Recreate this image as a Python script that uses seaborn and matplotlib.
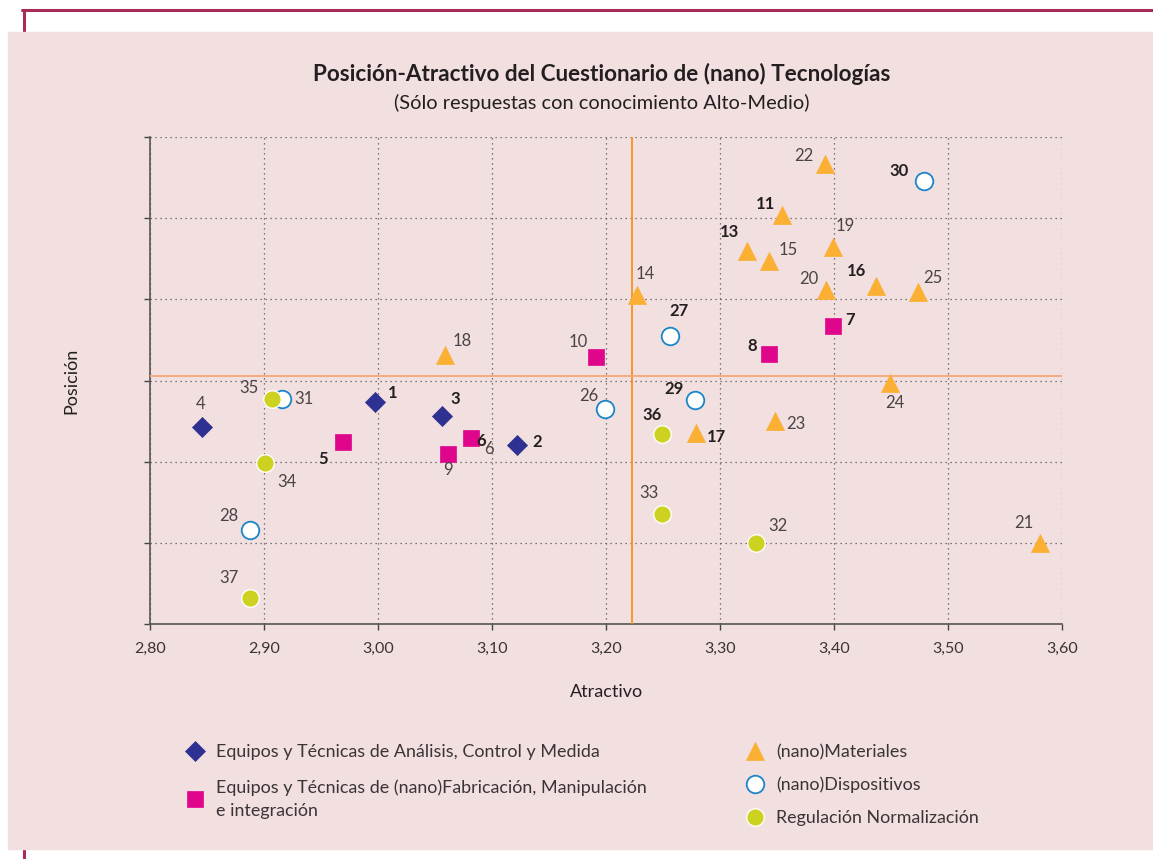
import matplotlib
matplotlib.use("Agg")
import matplotlib.pyplot as plt
from matplotlib.lines import Line2D
from matplotlib.patches import Rectangle
import pandas as pd
import seaborn as sns

# values (Atractivo = x, Posición = y)
analisis_ids = [1, 2, 3, 4]
analisis_x = [2.997, 3.122, 3.056, 2.846]
analisis_y = [2.946, 2.840, 2.913, 2.885]

fabricacion_ids = [5, 6, 7, 8, 9, 10]
fabricacion_x = [2.969, 3.082, 3.399, 3.343, 3.061, 3.191]
fabricacion_y = [2.849, 2.859, 3.135, 3.066, 2.820, 3.059]

materiales_ids = [11, 13, 14, 15, 16, 17, 18, 19, 20, 21, 22, 23, 24, 25]
materiales_x = [3.354, 3.324, 3.227, 3.343, 3.437, 3.279, 3.059, 3.399, 3.393, 3.581, 3.392, 3.348, 3.449, 3.474]
materiales_y = [3.407, 3.320, 3.211, 3.295, 3.233, 2.871, 3.062, 3.328, 3.223, 2.600, 3.533, 2.901, 2.995, 3.218]

dispositivos_ids = [26, 27, 28, 29, 30, 31]
dispositivos_x = [3.199, 3.256, 2.888, 3.278, 3.479, 2.916]
dispositivos_y = [2.930, 3.109, 2.632, 2.951, 3.492, 2.954]

regulacion_ids = [32, 33, 34, 35, 36, 37]
regulacion_x = [3.332, 3.249, 2.901, 2.907, 3.249, 2.888]
regulacion_y = [2.600, 2.671, 2.797, 2.954, 2.867, 2.465]

media_x = 3.223
media_y = 3.011

bold_ids = [1, 2, 3, 5, 6, 7, 8, 11, 13, 16, 17, 27, 29, 30, 36]

x_ticks = [2.8, 2.9, 3.0, 3.1, 3.2, 3.3, 3.4, 3.5, 3.6]
x_ticklabels = ["2,80", "2,90", "3,00", "3,10", "3,20", "3,30", "3,40", "3,50", "3,60"]

grupos = [
    ("Equipos y Técnicas de Análisis, Control y Medida", analisis_ids, analisis_x, analisis_y),
    ("Equipos y Técnicas de (nano)Fabricación, Manipulación\ne integración", fabricacion_ids, fabricacion_x, fabricacion_y),
    ("(nano)Materiales", materiales_ids, materiales_x, materiales_y),
    ("(nano)Dispositivos", dispositivos_ids, dispositivos_x, dispositivos_y),
    ("Regulación Normalización", regulacion_ids, regulacion_x, regulacion_y),
]

# marker styles per group: marker, size, face, edge, edge width
estilos = [
    ("D", 105, "#2e3192", "#2e3192", 0.5),
    ("s", 140, "#e0068c", "#e0068c", 0.5),
    ("^", 170, "#fbb034", "#fbb034", 0.5),
    ("o", 160, "white", "#1a85c8", 1.3),
    ("o", 160, "#cdd11f", "white", 1.0),
]

# label offsets in pixels (dx right, dy down)
offsets = {
    1: (18, -9), 2: (20, -3), 3: (13, -17), 4: (-2, -23), 5: (-20, 17), 6: (10, 3),
    7: (17, -6), 8: (-17, -8), 9: (0, 16), 10: (-18, -15), 11: (-16, -11), 13: (-18, -19),
    14: (8, -21), 15: (19, -11), 16: (-20, -15), 17: (20, 4), 18: (17, -14), 19: (12, -21),
    20: (-17, -11), 21: (-17, -20), 22: (-21, -8), 23: (21, 3), 24: (5, 20), 25: (14, -14),
    26: (-16, -13), 27: (9, -25), 28: (-22, -14), 29: (-21, -11), 30: (-25, -10), 31: (22, 0),
    32: (21, -17), 33: (-13, -21), 34: (22, 19), 35: (-23, -11), 36: (-10, -19), 37: (-21, -20),
}

sns.set_style("white")
plt.rcParams['font.family'] = ['Lato', 'DejaVu Sans']

bg = "#f2dfe0"
fig = plt.figure(figsize=(11.53, 8.59), dpi=100)
fig.patch.set_facecolor("white")

# crimson frame lines behind the pink panel
fig.add_artist(Line2D([22 / 1153, 1], [1 - 10 / 859, 1 - 10 / 859], color="#a92b5a", lw=2.2, zorder=0))
fig.add_artist(Line2D([24 / 1153, 24 / 1153], [0, 1 - 10 / 859], color="#a92b5a", lw=2.2, zorder=0))
fig.add_artist(Rectangle((8 / 1153, 10 / 859), 1, (849 - 32) / 859, color=bg, zorder=1))

ax = fig.add_axes([150 / 1153, 1 - 624 / 859, 912 / 1153, 487 / 859])
ax.set_facecolor(bg)
ax.set_zorder(2)

for (nombre, ids, xs, ys), (mk, s, fc, ec, lw) in zip(grupos, estilos):
    df = pd.DataFrame({"id": ids, "x": xs, "y": ys})
    sns.scatterplot(data=df, x="x", y="y", marker=mk, s=s, color=fc, edgecolor=ec,
                    linewidth=lw, ax=ax, zorder=4, legend=False)
    for i, x, y in zip(ids, xs, ys):
        dx, dy = offsets[i]
        bold = i in bold_ids
        ax.annotate(str(i), (x, y), xytext=(dx, -dy), textcoords="offset pixels",
                    ha="center", va="center", fontsize=12,
                    fontweight="bold" if bold else "normal",
                    color="#231f20" if bold else "#4a4446", zorder=5)

# second "6" label that overlaps the bold one (as in the original)
ax.annotate("6", (fabricacion_x[1], fabricacion_y[1]), xytext=(17, -11), textcoords="offset pixels",
            ha="center", va="center", fontsize=12, color="#4a4446", zorder=5)

ax.axvline(media_x, color="#f7901e", lw=1.3, zorder=3)
ax.axhline(media_y, color="#f5a77a", lw=1.3, zorder=3)

ax.set_xlim(2.8, 3.6)
ax.set_ylim(2.4, 3.6)
ax.set_xticks(x_ticks)
ax.set_xticklabels(x_ticklabels, fontsize=11.5, color="#3a3436")
ax.set_yticks([2.4, 2.6, 2.8, 3.0, 3.2, 3.4, 3.6])
ax.set_yticklabels([])
ax.grid(True, linestyle=(0, (1, 3)), color="#555555", lw=0.9)
ax.tick_params(axis="both", direction="out", length=4, width=1, color="#444444", left=True, bottom=True)
ax.tick_params(axis="x", pad=9)
for side in ["top", "right"]:
    ax.spines[side].set_visible(False)
for side in ["left", "bottom"]:
    ax.spines[side].set_color("#555555")
    ax.spines[side].set_linewidth(1.2)

ax.set_xlabel("Atractivo", fontsize=13, color="#231f20", labelpad=20)
ax.set_ylabel("Posición", fontsize=13, color="#231f20", labelpad=43)

fig.text(602 / 1153, 1 - 74 / 859, "Posición-Atractivo del Cuestionario de (nano) Tecnologías",
         ha="center", va="center", fontsize=16.2, fontweight="bold", color="#231f20")
fig.text(602 / 1153, 1 - 103 / 859, "(Sólo respuestas con conocimiento Alto-Medio)",
         ha="center", va="center", fontsize=14.4, color="#231f20")

# legends
handles = []
for (nombre, ids, xs, ys), (mk, s, fc, ec, lw) in zip(grupos, estilos):
    handles.append(Line2D([], [], linestyle="none", marker=mk, markersize=s ** 0.5,
                          markerfacecolor=fc, markeredgecolor=ec, markeredgewidth=lw, label=nombre))

leg1 = fig.legend(handles=handles[:2], loc="upper left", bbox_to_anchor=(168 / 1153, 1 - 728 / 859),
                  frameon=False, fontsize=12.9, labelspacing=1.05, handletextpad=0.6,
                  handlelength=1.2, labelcolor="#3a3436")
for t in leg1.get_texts():
    t.set_linespacing(1.6)
leg2 = fig.legend(handles=handles[2:], loc="upper left", bbox_to_anchor=(728 / 1153, 1 - 728 / 859),
                  frameon=False, fontsize=12.9, labelspacing=0.92, handletextpad=0.6,
                  handlelength=1.2, labelcolor="#3a3436")

fig.savefig("out.png", dpi=100, facecolor=fig.get_facecolor())
